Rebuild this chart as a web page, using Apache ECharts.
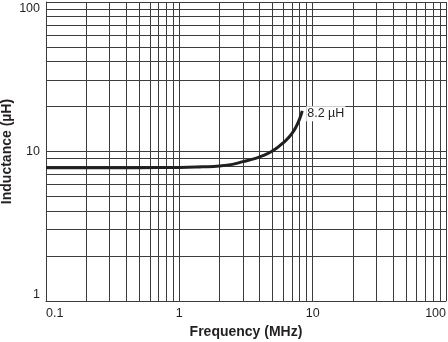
<!DOCTYPE html>
<html>
<head>
<meta charset="utf-8">
<script src="https://cdn.jsdelivr.net/npm/echarts@6/dist/echarts.min.js"></script>
<style>
  html, body { margin: 0; padding: 0; background: #fff; }
  #chart { width: 448px; height: 342px; }
</style>
</head>
<body>
<div id="chart"></div>
<script>
// Inductance vs. frequency for the 8.2 µH part
const freqMHz = [0.1, 0.2, 0.5, 1, 1.5, 2, 2.5, 3, 3.5, 4, 4.5, 5, 5.5, 6, 6.5, 7, 7.5, 8, 8.35];
const inductanceUH = [7.8, 7.8, 7.8, 7.82, 7.9, 8.0, 8.2, 8.55, 8.85, 9.2, 9.6, 10.1, 10.7, 11.4, 12.2, 13.2, 14.6, 16.6, 18.7];
const curveName = '8.2 µH';

// Minor decade gridlines (2..9 in each decade)
const xMinorGrid = [0.2, 0.3, 0.4, 0.5, 0.6, 0.7, 0.8, 0.9, 2, 3, 4, 5, 6, 7, 8, 9, 20, 30, 40, 50, 60, 70, 80, 90];
const yMinorGrid = [2, 3, 4, 5, 6, 7, 8, 9, 20, 30, 40, 50, 60, 70, 80, 90];

const FONT = '"Liberation Sans", Arial, Helvetica, sans-serif';
const GRID_COLOR = '#3c3c3c';
const TEXT_COLOR = '#231f20';

const chart = echarts.init(document.getElementById('chart'), null, { renderer: 'canvas' });

chart.setOption({
  animation: false,
  backgroundColor: '#fff',
  grid: { left: 46, right: 2, top: 2, bottom: 41, containLabel: false, outerBoundsMode: 'none' },
  xAxis: {
    type: 'log',
    logBase: 10,
    min: 0.1,
    max: 100,
    name: 'Frequency (MHz)',
    nameLocation: 'middle',
    nameGap: 24,
    nameMoveOverlap: false,
    nameTextStyle: { fontFamily: FONT, fontSize: 14, fontWeight: 'bold', color: TEXT_COLOR },
    axisLine: { show: true, lineStyle: { color: GRID_COLOR, width: 1 } },
    axisTick: { show: false },
    axisLabel: {
      fontFamily: FONT, fontSize: 12.5, color: TEXT_COLOR, margin: 6,
      alignMinLabel: 'left', alignMaxLabel: 'right',
      formatter: v => String(v)
    },
    splitLine: { show: true, lineStyle: { color: GRID_COLOR, width: 1 } }
  },
  yAxis: {
    type: 'log',
    logBase: 10,
    min: 1,
    max: 100,
    name: 'Inductance (µH)',
    nameLocation: 'middle',
    nameGap: 32,
    nameMoveOverlap: false,
    nameTextStyle: { fontFamily: FONT, fontSize: 14, fontWeight: 'bold', color: TEXT_COLOR },
    axisLine: { show: true, lineStyle: { color: GRID_COLOR, width: 1 } },
    axisTick: { show: false },
    axisLabel: {
      fontFamily: FONT, fontSize: 12.5, color: TEXT_COLOR, margin: 6,
      verticalAlignMinLabel: 'bottom', verticalAlignMaxLabel: 'top',
      formatter: v => String(v)
    },
    splitLine: { show: true, lineStyle: { color: GRID_COLOR, width: 1 } }
  },
  series: [
    {
      // minor gridlines drawn on the log scales
      type: 'line',
      data: [],
      silent: true,
      markLine: {
        silent: true,
        symbol: 'none',
        label: { show: false },
        lineStyle: { color: GRID_COLOR, width: 1, type: 'solid' },
        data: xMinorGrid.map(v => ({ xAxis: v })).concat(yMinorGrid.map(v => ({ yAxis: v })))
      }
    },
    {
      name: curveName,
      type: 'line',
      smooth: true,
      showSymbol: false,
      data: freqMHz.map((f, i) => [f, inductanceUH[i]]),
      lineStyle: { color: TEXT_COLOR, width: 3 },
      endLabel: {
        show: true,
        formatter: p => p.seriesName,
        fontFamily: FONT, fontSize: 12.5, color: TEXT_COLOR,
        distance: 4,
        offset: [0, 3],
        backgroundColor: '#fff',
        padding: [1, 1, 1, 1]
      },
      z: 5
    }
  ]
});
</script>
</body>
</html>
